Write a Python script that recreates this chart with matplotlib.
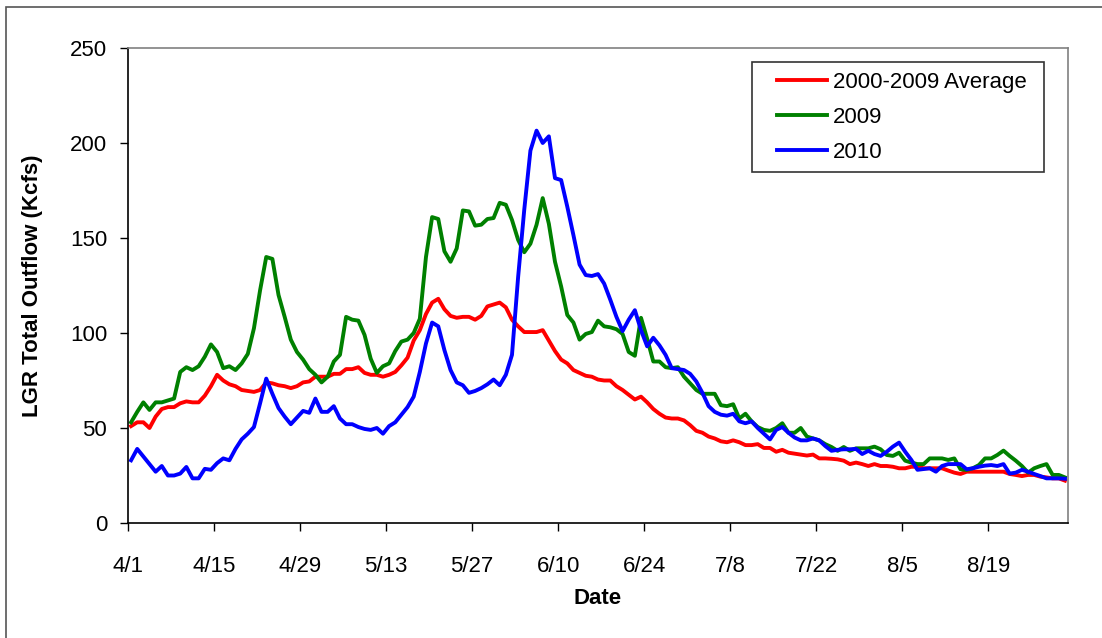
import numpy as np
import matplotlib
matplotlib.use('Agg')
import matplotlib.pyplot as plt
from matplotlib.patches import Rectangle

plt.rcParams['font.family'] = ['Liberation Sans', 'DejaVu Sans']

# daily outflow (Kcfs), 4/1 .. 8/31
avg_0009 = [51, 53, 53, 50, 56, 60, 61, 61, 63, 64, 63.5, 63.5, 67, 72, 78, 75, 73, 72, 70, 69.5,
            69, 70, 74, 73.5, 72.5, 72, 71, 72, 74, 74.5, 77, 77, 77, 78.5, 78.5, 81, 81, 82, 79, 78,
            78, 77, 78, 79.5, 83, 87, 96, 101.5, 110, 116, 118, 112.5, 109, 108, 108.5, 108.5, 107, 109, 114, 115,
            116, 113.5, 107, 103.5, 100.5, 100.5, 100.5, 101.5, 96, 90.5, 86, 84, 80.5, 79, 77.5, 77, 75.5, 75, 75, 72,
            70, 67.5, 65, 66.5, 63.5, 60, 57.5, 55.5, 55, 55, 54, 51.5, 48.5, 47.5, 45.5, 44.5, 43, 42.5, 43.5, 42.5,
            41, 41, 41.5, 39.5, 39.5, 37.5, 38.5, 37, 36.5, 36, 35.5, 36, 34, 34, 33.8, 33.5, 32.8, 31, 31.8, 31,
            30, 31, 30, 30, 29.6, 28.8, 28.8, 29.6, 29.6, 28.8, 28.8, 28.8, 28.8, 27.6, 26.5, 25.8, 27, 27, 27, 27,
            27, 27, 27, 25.8, 25.3, 24.7, 25.3, 25.3, 24.4, 24, 23.5, 23.5, 22.3]

flow_2009 = [53, 58.5, 63.5, 59.5, 63.5, 63.5, 64.5, 65.5, 79.5, 82, 80.5, 82.5, 87.5, 94, 90, 81.5, 82.5, 80.5, 84, 89,
             102.5, 122.5, 140, 139, 120, 108.5, 96.5, 90, 86, 81, 78, 74, 77, 85, 88.5, 108.5, 107, 106.5, 99, 86.5,
             79, 82.5, 84, 90.5, 95.5, 96.5, 100, 107.5, 140, 161, 160, 143, 137.5, 144.5, 164.5, 164, 156.5, 157, 160, 160.5,
             168.5, 167.5, 159.5, 149, 142.5, 147, 157, 171, 157.5, 137.5, 124.5, 109.5, 105.5, 96.5, 99.5, 100.5, 106.5, 103.5, 103, 102,
             99.5, 90, 88, 108, 97, 85, 85, 82, 81.5, 82, 77, 73.5, 70, 68, 68, 68, 62, 61.5, 62.5, 55,
             57.5, 53.5, 50.5, 49, 48.5, 50, 52.5, 47.5, 47.5, 50, 45.5, 44.5, 43.5, 41.5, 40, 38, 40, 38, 39.3, 39.3,
             39.3, 40.2, 38.8, 35.8, 35.3, 37, 32.8, 31.8, 31, 31, 34, 34, 34, 33.2, 34, 28.3, 27.9, 28.8, 30.5, 34,
             34, 35.8, 38.1, 35.3, 32.8, 30, 26.5, 28.8, 30, 31, 25.3, 25.3, 24]

flow_2010 = [33, 39, 35, 31, 27, 30, 25, 25, 26, 29.5, 23.5, 23.5, 28.5, 28, 31.5, 34, 33, 39, 44, 47,
             50.5, 63, 76, 68, 60.5, 56, 52, 55.5, 59, 58, 65.5, 58.5, 58.5, 61.5, 55, 52, 52, 50.5, 49.5, 49,
             50, 47, 51, 53, 57, 61, 66.5, 79.5, 94.5, 105.5, 103.5, 91, 80.5, 74, 72.5, 68.5, 69.5, 71, 73, 75.5,
             72.5, 78, 88.5, 129.5, 165, 196, 206.5, 200, 203.5, 181.5, 180.5, 166.5, 151.5, 136, 130.5, 130, 131, 126, 117.5, 108.5,
             101, 107, 112, 101.5, 93, 97.5, 93.5, 88.5, 81.5, 81, 80.5, 78.5, 74.5, 68.5, 61.5, 58.5, 57, 56.5, 57.5, 53.5,
             52.5, 53.5, 50, 47, 44, 49, 50.5, 47.5, 45, 43.5, 43.5, 44.5, 43.5, 40.5, 38, 38.5, 38.8, 38.8, 39, 36.3,
             38, 36.3, 35.3, 37.5, 40.2, 42.3, 37.5, 33.2, 28, 28.4, 28.8, 27, 30, 31, 31, 31, 28.3, 28.8, 29.6, 30.2,
             30.5, 30, 31, 26, 26.5, 28, 27, 25.8, 24.7, 23.5, 23.5, 23.5, 23.3]

tick_labels = ['4/1', '4/15', '4/29', '5/13', '5/27', '6/10', '6/24', '7/8', '7/22', '8/5', '8/19']
series_names = ['2000-2009 Average', '2009', '2010']

n_days = len(avg_0009)
days = np.arange(n_days) + 0.5   # Excel style: points sit in the middle of each day slot

W, H = 1102, 638
fig = plt.figure(figsize=(W / 100, H / 100), dpi=100)
ax = fig.add_axes([128 / W, 1 - 523 / H, 940 / W, 475 / H])

fs = 16
ax.plot(days, avg_0009, color='#ff0000', lw=2.8, label=series_names[0])
ax.plot(days, flow_2009, color='#008000', lw=2.8, label=series_names[1])
ax.plot(days, flow_2010, color='#0000ff', lw=2.8, label=series_names[2])

ax.set_xlim(0, n_days)
ax.set_ylim(0, 250)
ax.set_yticks(np.arange(0, 251, 50))
ax.set_xticks(np.arange(0, n_days, 14))
ax.set_xticklabels(tick_labels)
ax.tick_params(axis='both', direction='out', length=6, width=1, colors='black', labelsize=fs)
ax.tick_params(axis='y', pad=9)
ax.tick_params(axis='x', pad=18)

for s in ['left', 'bottom']:
    ax.spines[s].set_color('black')
    ax.spines[s].set_linewidth(1.2)
for s in ['top', 'right']:
    ax.spines[s].set_color('#808080')
    ax.spines[s].set_linewidth(1.2)

ax.set_xlabel('Date', fontsize=fs, fontweight='bold')
ax.xaxis.set_label_coords(0.5, (523 - 599) / 475)
ax.xaxis.label.set_va('center')
ax.set_ylabel('LGR Total Outflow (Kcfs)', fontsize=fs, fontweight='bold')
ax.yaxis.set_label_coords((33 - 128) / 940, 0.5)
ax.yaxis.label.set_va('center')

# legend without its own frame, box drawn separately like Excel's
leg = ax.legend(loc='upper left', bbox_to_anchor=(777 / W, 1 - 72 / H), bbox_transform=fig.transFigure,
                frameon=False, fontsize=fs, handlelength=2.25, handletextpad=0.25, borderpad=0,
                borderaxespad=0, labelspacing=0.62)
fig.patches.append(Rectangle((752 / W, 1 - 172 / H), 292 / W, 110 / H, transform=fig.transFigure,
                             fill=False, edgecolor='#333333', lw=1.2))

# chart area border (left and top visible in the crop)
fig.patches.append(Rectangle((6 / W, -0.1), 1.5, 1.1 - 7 / H, transform=fig.transFigure,
                             fill=False, edgecolor='#555555', lw=1.2))

fig.savefig('out.png', dpi=100)
